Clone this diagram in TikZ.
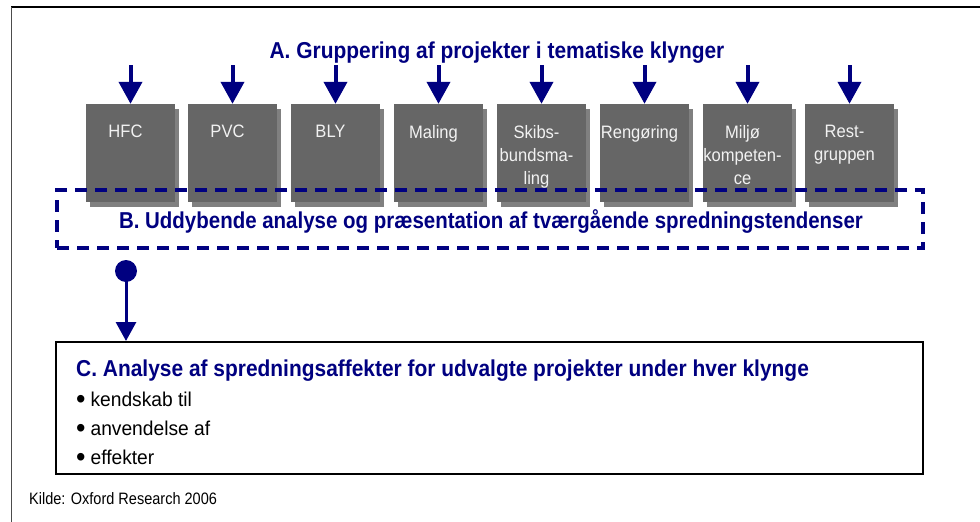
\documentclass[tikz,border=0pt]{standalone}
\usepackage{fontspec}
\setmainfont{Liberation Sans}
\newfontfamily\headfont[FakeStretch=0.91]{Liberation Sans}
\newfontfamily\narrowheadfont[FakeStretch=0.89]{Liberation Sans}
\newfontfamily\labelfont[FakeStretch=0.92]{Liberation Sans}
\newfontfamily\bodyfont[FakeStretch=0.96]{Liberation Sans}
\newfontfamily\notefont[FakeStretch=0.88]{Liberation Sans}
\usetikzlibrary{arrows.meta,shadows}
\definecolor{navy}{HTML}{000080}
\definecolor{clustergrey}{HTML}{666666}
\definecolor{shadowgrey}{HTML}{808080}
\newcommand{\itemdot}{\raisebox{-2.5pt}{\scalebox{1.4}{•}}\hspace{5pt}}
\tikzset{
  cluster/.style={rectangle, fill=clustergrey, minimum width=89pt, minimum height=98pt,
    inner sep=0pt, drop shadow={shadow xshift=4pt, shadow yshift=-5pt, fill=shadowgrey, opacity=1}},
  clustertext/.style={anchor=north, inner sep=0pt, align=center, text=white!95!black,
    font=\labelfont\fontsize{18}{23}\selectfont},
  headline/.style={inner sep=0pt, text=navy, font=\headfont\fontsize{23}{27}\selectfont\bfseries},
  bodytext/.style={inner sep=0pt, anchor=base west, font=\bodyfont\fontsize{20}{24}\selectfont},
  downarrow/.style={draw=navy, line width=4pt, -{Triangle[length=22pt,width=23pt]}},
  thinarrow/.style={draw=navy, line width=3pt, -{Triangle[length=19pt,width=20pt]}},
  dashbox/.style={rectangle, draw=navy, line width=4pt, dash pattern=on 12pt off 8pt,
    minimum width=866pt, minimum height=58pt, inner sep=0pt},
  resultbox/.style={rectangle, draw=black, line width=2pt, minimum width=867pt,
    minimum height=132pt, inner sep=0pt},
}
\begin{document}
\begin{tikzpicture}[x=1pt,y=-1pt]
\useasboundingbox (0,0) rectangle (980,522);
% page frame (top and left edges)
\draw[black, line width=2pt] (11,7) -- (980,7);
\draw[black!70, line width=1.5pt] (11.5,7) -- (11.5,522);

% A: heading
\node[headline, anchor=base] (titleA) at (497,58) {A. Gruppering af projekter i tematiske klynger};

% thematic clusters with their entry arrows
\foreach \i/\x/\txt in {1/130.5/HFC, 2/232.5/PVC, 3/335.5/BLY, 4/438.5/Maling,
    5/541.5/{Skibs-\\bundsma-\\ling}, 6/644.5/Rengøring, 7/747.5/{Miljø\\kompeten-\\ce},
    8/849.5/{Rest-\\gruppen}} {
  \node[cluster] (box\i) at (\x,153) {};
  \coordinate (in\i) at (\x,65);
  \draw[downarrow] (in\i) -- (box\i.north);
  \node[clustertext] (lbl\i) at (\x-5,125) {\txt};
}

% B: dashed frame across the clusters
\node[dashbox] (frameB) at (490,219) {};
\node[headline, anchor=base, font=\narrowheadfont\fontsize{23}{27}\selectfont\bfseries] (titleB) at (491,228) {B. Uddybende analyse og præsentation af tværgående spredningstendenser};

% link from B down to C
\node[circle, fill=navy, minimum size=22pt, inner sep=0pt] (dot) at (126,271) {};

% C: result box
\node[resultbox] (boxC) at (489.5,408) {};
\draw[thinarrow] (dot.center) -- (dot |- boxC.north);
\node[headline, anchor=base west] (titleC) at (76,376) {C. Analyse af spredningsaffekter for udvalgte projekter under hver klynge};
\node[bodytext] (item1) at (76,406) {\itemdot kendskab til};
\node[bodytext] (item2) at (76,435) {\itemdot anvendelse af};
\node[bodytext] (item3) at (76,464) {\itemdot effekter};

% source line
\node[inner sep=0pt, anchor=base west, font=\notefont\fontsize{16.5}{19}\selectfont] (source) at (29,504) {Kilde: Oxford Research 2006};
\end{tikzpicture}
\end{document}
